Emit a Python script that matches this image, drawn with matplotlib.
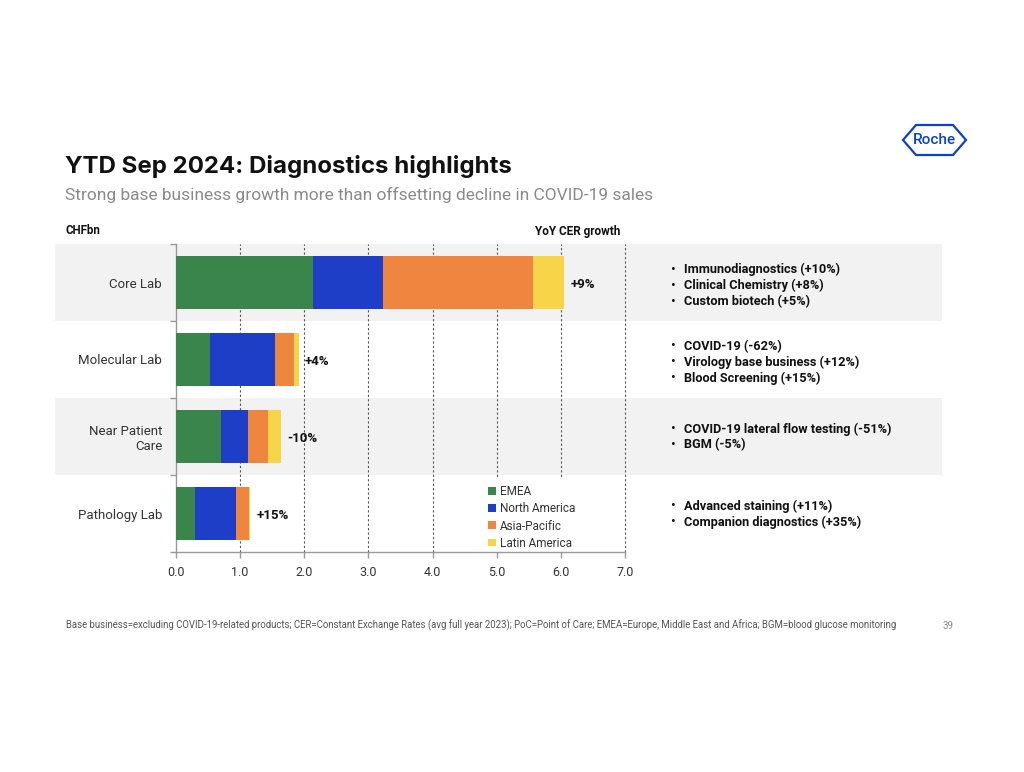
import matplotlib
matplotlib.use("Agg")
import matplotlib.pyplot as plt
from matplotlib.patches import Rectangle, Polygon
from matplotlib.transforms import blended_transform_factory
import numpy as np

plt.rcParams['font.family'] = ['Roboto', 'DejaVu Sans']

categories = ["Core Lab", "Molecular Lab", "Near Patient\nCare", "Pathology Lab"]
regions = ["EMEA", "North America", "Asia-Pacific", "Latin America"]
emea = [2.13, 0.53, 0.70, 0.29]
north_america = [1.10, 1.01, 0.43, 0.64]
asia_pacific = [2.34, 0.30, 0.31, 0.21]
latin_america = [0.48, 0.07, 0.19, 0.02]
growth = ["+9%", "+4%", "-10%", "+15%"]
highlights = [
    ["Immunodiagnostics (+10%)", "Clinical Chemistry (+8%)", "Custom biotech (+5%)"],
    ["COVID-19 (-62%)", "Virology base business (+12%)", "Blood Screening (+15%)"],
    ["COVID-19 lateral flow testing (-51%)", "BGM (-5%)"],
    ["Advanced staining (+11%)", "Companion diagnostics (+35%)"],
]
xticks = [0.0, 1.0, 2.0, 3.0, 4.0, 5.0, 6.0, 7.0]
colors = ["#3a854b", "#1f3ec8", "#ef8640", "#f8d548"]

W, H = 1024, 772
fig = plt.figure(figsize=(W / 100, H / 100), dpi=100)
fig.patch.set_facecolor("white")

ax = fig.add_axes([176 / W, 1 - 552 / H, (625 - 176) / W, (552 - 244) / H])
ax.patch.set_visible(False)

y = np.arange(len(categories))
series = [emea, north_america, asia_pacific, latin_america]
left = np.zeros(len(categories))
for vals, col, name in zip(series, colors, regions):
    ax.barh(y, vals, left=left, height=0.68, color=col, label=name, zorder=3)
    left = left + np.array(vals)

for i, (tot, g) in enumerate(zip(left, growth)):
    ax.text(tot + 0.1, i + 0.02, g, va="center", ha="left", fontsize=9.5,
            fontweight="bold", color="#111111", zorder=4)

ax.set_xlim(0, 7)
ax.set_ylim(len(categories) - 0.5, -0.5)

# background bands
tr = blended_transform_factory(fig.transFigure, ax.transData)
for i in range(len(categories)):
    if i % 2 == 0:
        ax.add_patch(Rectangle((55 / W, i - 0.5), (942 - 55) / W, 1.0,
                               transform=tr, facecolor="#f2f2f2",
                               edgecolor="none", clip_on=False, zorder=0.1))

ax.set_xticks(xticks)
ax.set_xticklabels([f"{v:.1f}" for v in xticks], fontsize=9, color="#333333")
ax.set_yticks(y)
ax.set_yticklabels(categories, fontsize=9.5, color="#333333")
ax.set_yticks(np.arange(len(categories) + 1) - 0.5, minor=True)
ax.tick_params(axis="y", which="major", length=0, pad=10)
ax.tick_params(axis="y", which="minor", length=4, color="#999999", width=1)
ax.tick_params(axis="x", length=4, color="#999999", width=1, pad=6)

for s in ["top", "right"]:
    ax.spines[s].set_visible(False)
for s in ["left", "bottom"]:
    ax.spines[s].set_color("#999999")
    ax.spines[s].set_linewidth(1)

for xv in xticks[1:]:
    ax.axvline(xv, color="#555555", linestyle=(0, (2, 2)), linewidth=0.8,
               zorder=1, clip_on=False)

# white box behind legend (hides gridlines)
ax.add_patch(Rectangle((0.67, 0.0), 0.30, 0.245, transform=ax.transAxes,
                       facecolor="white", edgecolor="none", zorder=1.5))

leg = ax.legend(loc="upper left", bbox_to_anchor=(0.685, 0.232), frameon=False,
                fontsize=8.5, handlelength=0.65, handleheight=0.65,
                handletextpad=0.35, labelspacing=0.35, borderaxespad=0)
leg.set_zorder(5)
for t in leg.get_texts():
    t.set_color("#333333")

# Titles
fig.text(65 / W, 1 - 167 / H, "YTD Sep 2024: Diagnostics highlights", fontsize=17.3,
         fontweight="bold", color="#111111", va="center", ha="left",
         family=["Inter", "DejaVu Sans"])
fig.text(65 / W, 1 - 195 / H,
         "Strong base business growth more than offsetting decline in COVID-19 sales",
         fontsize=12.5, color="#8a8a8a", va="center", ha="left")
fig.text(66 / W, 1 - 231 / H, "CHFbn", fontsize=8.3, fontweight="bold",
         color="#111111", va="center", ha="left")
fig.text(620 / W, 1 - 231 / H, "YoY CER growth", fontsize=8.5, fontweight="bold",
         color="#111111", va="center", ha="right")

# Highlights bullets
for i, items in enumerate(highlights):
    n = len(items)
    center_px = 244 + 77 * i + 38.5 + (1.5 if n == 3 else -1)
    step = 16
    start = center_px - step * (n - 1) / 2
    for k, item in enumerate(items):
        yy = 1 - (start + k * step) / H
        fig.text(671 / W, yy, "•", fontsize=10, color="#111111",
                 va="center_baseline", ha="left")
        fig.text(684 / W, yy, item, fontsize=9.2, fontweight="bold",
                 color="#111111", va="center_baseline", ha="left")

# Footer
fig.text(66 / W, 1 - 625 / H,
         "Base business=excluding COVID-19-related products; CER=Constant Exchange Rates (avg full year 2023); "
         "PoC=Point of Care; EMEA=Europe, Middle East and Africa; BGM=blood glucose monitoring",
         fontsize=6.9, color="#555555", va="center", ha="left")
fig.text(948 / W, 1 - 626 / H, "39", fontsize=7, color="#888888", va="center", ha="center")

# Roche logo
hx = [903, 916, 953, 966, 953, 916]
hy = [140, 125, 125, 140, 155, 155]
poly = Polygon([(a / W, 1 - b / H) for a, b in zip(hx, hy)], closed=True,
               transform=fig.transFigure, fill=False, edgecolor="#0b41cd", linewidth=1.6)
fig.patches.append(poly)
fig.text(934.5 / W, 1 - 140 / H, "Roche", fontsize=11, color="#0b41cd",
         va="center", ha="center", fontweight="medium")

fig.savefig("out.png", dpi=100, facecolor="white")
